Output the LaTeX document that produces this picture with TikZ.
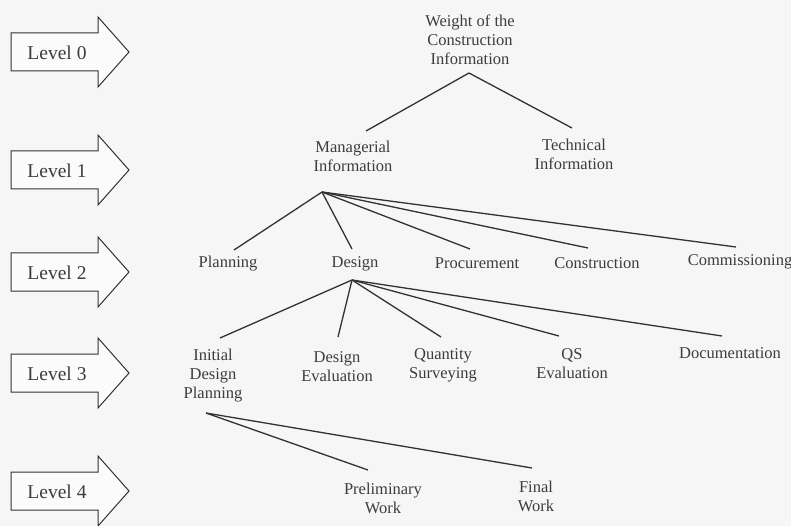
\documentclass[tikz,border=0pt]{standalone}
\usepackage{fontspec}
\setmainfont{Liberation Serif}
\usetikzlibrary{calc}
\definecolor{bg}{RGB}{246,246,246}
\definecolor{ink}{RGB}{50,50,50}
\definecolor{txt}{RGB}{60,60,60}
\begin{document}
\begin{tikzpicture}[x=1pt,y=-1pt,
  lbl/.style={inner sep=0pt,align=center,text=txt,font=\fontsize{16.5}{19}\selectfont},
  lvl/.style={inner sep=0pt,text=txt,font=\fontsize{19.5}{22}\selectfont},
  conn/.style={draw=ink,line width=1.3pt},
  lvlarrow/.style={draw=ink,line width=1pt,fill=white!60!bg}]
\useasboundingbox[fill=bg] (0,0) rectangle (791,526);
% level arrows
\foreach \c/\n in {52/0,170/1,272/2,373/3,491/4}{
  \draw[lvlarrow] (11,\c-19) -- (98,\c-19) -- (98,\c-35) -- (129,\c) -- (98,\c+35) -- (98,\c+19) -- (11,\c+19) -- cycle;
  \node[lvl] (lv\n) at (57,\c+1) {Level \n};
}
% tree nodes
\node[lbl] (top) at (470,40) {Weight of the\\Construction\\Information};
\node[lbl] (mgr) at (353,156.5) {Managerial\\Information};
\node[lbl] (tech) at (574,154) {Technical\\Information};
\node[lbl] (plan) at (228,264) {Planning};
\node[lbl] (design) at (355,264) {Design};
\node[lbl] (proc) at (477,263) {Procurement};
\node[lbl] (constr) at (597,263) {Construction};
\node[lbl] (comm) at (740,262) {Commissioning};
\node[lbl] (idp) at (213,376) {Initial\\Design\\Planning};
\node[lbl] (deval) at (337,366.5) {Design\\Evaluation};
\node[lbl] (qs) at (443,365.5) {Quantity\\Surveying};
\node[lbl] (qsev) at (572,363.5) {QS\\Evaluation};
\node[lbl] (doc) at (730,353) {Documentation};
\node[lbl] (prelim) at (383,498) {Preliminary\\Work};
\node[lbl] (final) at (536,496.5) {Final\\Work};
% connectors
\draw[conn] ($(top)+(-1,33)$) -- ($(mgr)+(13,-25.5)$);
\draw[conn] ($(top)+(-1,33)$) -- ($(tech)+(-2,-26)$);
\draw[conn] ($(mgr)+(-31,35.5)$) -- ($(plan)+(6,-14)$);
\draw[conn] ($(mgr)+(-31,35.5)$) -- ($(design)+(-3,-15)$);
\draw[conn] ($(mgr)+(-31,35.5)$) -- ($(proc)+(-7,-14)$);
\draw[conn] ($(mgr)+(-31,35.5)$) -- ($(constr)+(-9,-15)$);
\draw[conn] ($(mgr)+(-31,35.5)$) -- ($(comm)+(-4,-15)$);
\draw[conn] ($(design)+(-3,16)$) -- ($(idp)+(7,-38)$);
\draw[conn] ($(design)+(-3,16)$) -- ($(deval)+(1,-29.5)$);
\draw[conn] ($(design)+(-3,16)$) -- ($(qs)+(-2,-28.5)$);
\draw[conn] ($(design)+(-3,16)$) -- ($(qsev)+(-13,-27.5)$);
\draw[conn] ($(design)+(-3,16)$) -- ($(doc)+(-8,-17)$);
\draw[conn] ($(idp)+(-7,37)$) -- ($(prelim)+(-15,-28)$);
\draw[conn] ($(idp)+(-7,37)$) -- ($(final)+(-4,-28.5)$);
\end{tikzpicture}
\end{document}
